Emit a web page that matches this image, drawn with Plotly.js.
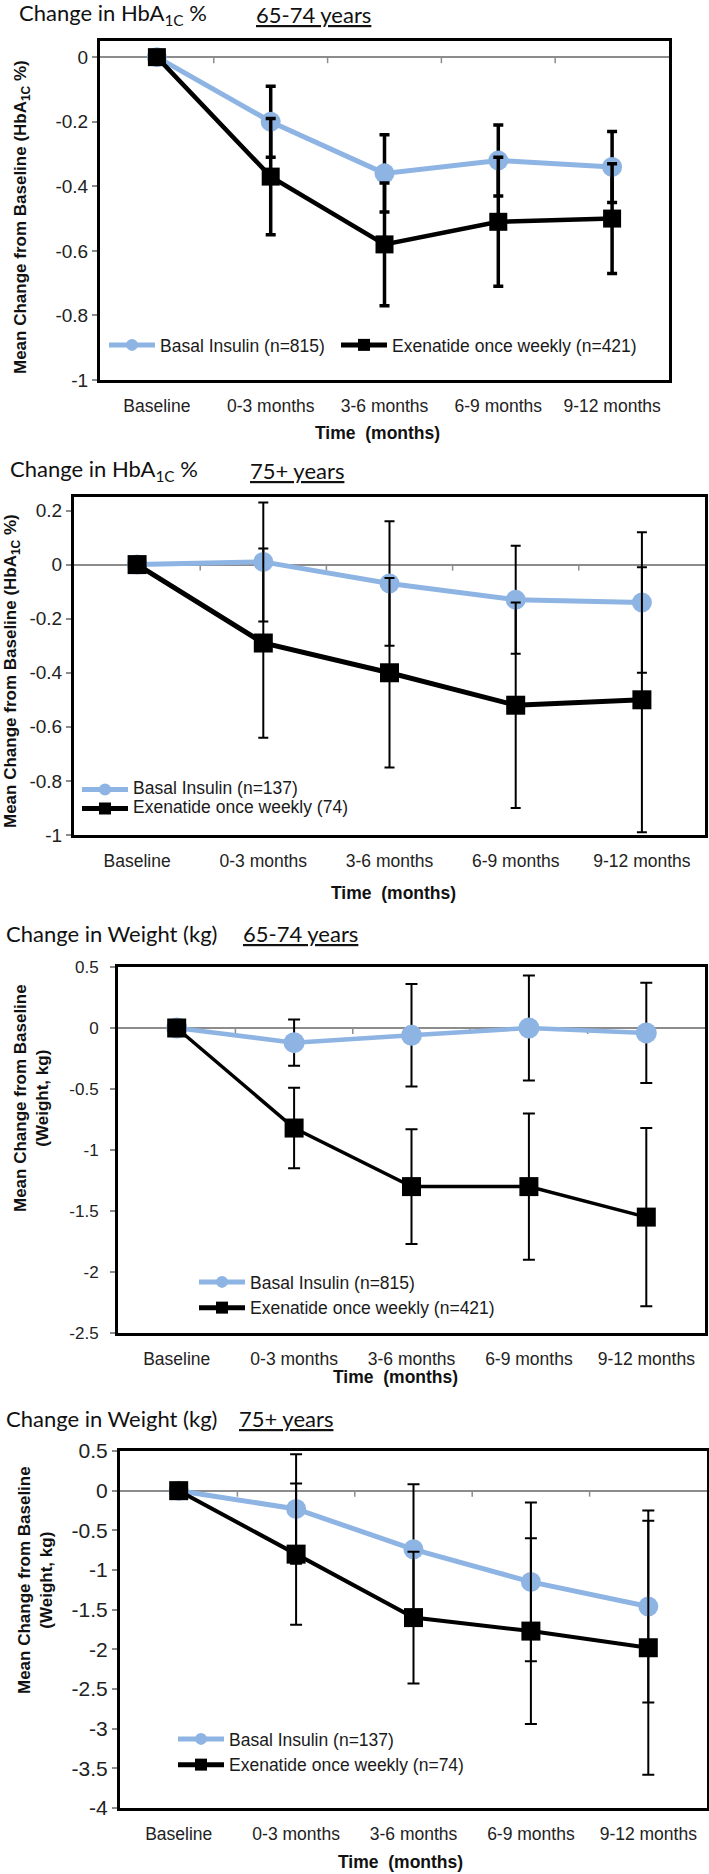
<!DOCTYPE html>
<html><head><meta charset="utf-8">
<script src="https://cdn.plot.ly/plotly-3.0.1.min.js"></script>
<style>html,body{margin:0;padding:0;background:#fff}#chart{width:709px;height:1874px}</style>
</head><body><div id="chart"></div>
<script>
// ---------- data ----------
const categories = ['Baseline', '0-3 months', '3-6 months', '6-9 months', '9-12 months'];

// Panel 1: Change in HbA1c %, 65-74 years
const basal1    = [0, -0.20, -0.36, -0.32, -0.34];
const basal1Err = [0, 0.11, 0.12, 0.11, 0.11];
const exen1     = [0, -0.37, -0.58, -0.51, -0.50];
const exen1Err  = [0, 0.18, 0.19, 0.20, 0.17];
const yTicks1   = [0, -0.2, -0.4, -0.6, -0.8, -1];

// Panel 2: Change in HbA1c %, 75+ years
const basal2    = [0, 0.01, -0.07, -0.13, -0.14];
const basal2Err = [0, 0.22, 0.23, 0.20, 0.26];
const exen2     = [0, -0.29, -0.40, -0.52, -0.50];
const exen2Err  = [0, 0.35, 0.35, 0.38, 0.49];
const yTicks2   = [0.2, 0, -0.2, -0.4, -0.6, -0.8, -1];

// Panel 3: Change in Weight (kg), 65-74 years
const basal3    = [0, -0.12, -0.06, 0.00, -0.04];
const basal3Err = [0, 0.19, 0.42, 0.43, 0.41];
const exen3     = [0, -0.82, -1.30, -1.30, -1.55];
const exen3Err  = [0, 0.33, 0.47, 0.60, 0.73];
const yTicks3   = [0.5, 0, -0.5, -1, -1.5, -2, -2.5];

// Panel 4: Change in Weight (kg), 75+ years
const basal4    = [0, -0.23, -0.74, -1.15, -1.46];
const basal4Err = [0, 0.69, 0.82, 1.00, 1.21];
const exen4     = [0, -0.80, -1.60, -1.77, -1.98];
const exen4Err  = [0, 0.89, 0.83, 1.17, 1.60];
const yTicks4   = [0.5, 0, -0.5, -1, -1.5, -2, -2.5, -3, -3.5, -4];

const basalNames = ['Basal Insulin (n=815)', 'Basal Insulin (n=137)', 'Basal Insulin (n=815)', 'Basal Insulin (n=137)'];
const exenNames  = ['Exenatide once weekly (n=421)', 'Exenatide once weekly (74)', 'Exenatide once weekly (n=421)', 'Exenatide once weekly (n=74)'];
const titleLeft  = ['Change in HbA<sub>1C</sub> %', 'Change in HbA<sub>1C</sub> %', 'Change in Weight (kg)', 'Change in Weight (kg)'];
const titleRight = ['65-74 years', '75+ years', '65-74 years', '75+ years'];
const yTitles    = ['Mean Change from Baseline (HbA<sub>1C</sub> %)', 'Mean Change from Baseline (HbA<sub>1C</sub> %)',
                    'Mean Change from Baseline<br>(Weight, kg)', 'Mean Change from Baseline<br>(Weight, kg)'];
const xTitle     = 'Time  (months)';

// ---------- layout geometry (pixels) ----------
const W = 709, H = 1874;
const px = x => x / W, py = y => 1 - y / H;
const BLUE = '#8EB4E3';
const FONT = 'Liberation Sans, Arial, sans-serif';
const TFONT = 'Lato, Carlito, Calibri, sans-serif';
const LEG_FS = 17.5;

const series = [
  {b: basal1, be: basal1Err, e: exen1, ee: exen1Err, ticks: yTicks1},
  {b: basal2, be: basal2Err, e: exen2, ee: exen2Err, ticks: yTicks2},
  {b: basal3, be: basal3Err, e: exen3, ee: exen3Err, ticks: yTicks3},
  {b: basal4, be: basal4Err, e: exen4, ee: exen4Err, ticks: yTicks4}
];
// legend boxes: [left x of symbol, centre y] ; row font size sets the row pitch
const geom = [
  {l: 100, r: 669, t: 41,   b: 380,  yr: [-1, 0.05],  ytf: 19, ystand: 0,
   titleY: 14, titleX: 17, title2X: 254, xtY: 433, xtX: 378, ytX: [22], ytY: 217,
   legs: [{x: 109, y: 345}, {x: 341, y: 345}], rowfs: LEG_FS, gap: 0,
   bw: 5, ew: 4.5, et: 3.5, ewid: 5, ms: 20, ss: 18},
  {l: 74,  r: 705, t: 497,  b: 835,  yr: [-1, 0.25],  ytf: 19, ystand: 0,
   titleY: 470, titleX: 8, title2X: 248, xtY: 893, xtX: 393, ytX: [12], ytY: 671,
   legs: [{x: 82, y: 799}], rowfs: 12.3, gap: 0,
   bw: 5, ew: 5, et: 2, ewid: 5, ms: 20, ss: 19},
  {l: 118, r: 705, t: 967,  b: 1333, yr: [-2.5, 0.5], ytf: 17, ystand: 8,
   titleY: 934, titleX: 4, title2X: 241, xtY: 1377, xtX: 395, ytX: [21, 41], ytY: 1098,
   legs: [{x: 199, y: 1295}], rowfs: LEG_FS, gap: 1,
   bw: 4.5, ew: 3.5, et: 2, ewid: 6, ms: 21, ss: 19},
  {l: 120, r: 707, t: 1451, b: 1808, yr: [-4, 0.5],   ytf: 21, ystand: 0,
   titleY: 1418, titleX: 4, title2X: 237, xtY: 1862, xtX: 400, ytX: [24, 46], ytY: 1580,
   legs: [{x: 178, y: 1752}], rowfs: LEG_FS, gap: 14,
   bw: 5, ew: 4, et: 2, ewid: 6, ms: 20, ss: 19}
];

const traces = [];
const layout = {
  width: W, height: H,
  margin: {l: 0, r: 0, t: 0, b: 0},
  paper_bgcolor: '#fff', plot_bgcolor: '#fff',
  font: {family: FONT, color: '#222'},
  showlegend: true,
  annotations: [], shapes: []
};

const legText = t => '<span style="font-size:' + LEG_FS + 'px">' + t + '</span>';

series.forEach((s, i) => {
  const g = geom[i];
  const n = i + 1;
  const xa = n === 1 ? 'x' : 'x' + n;
  const ya = n === 1 ? 'y' : 'y' + n;
  const xKey = n === 1 ? 'xaxis' : 'xaxis' + n;
  const yKey = n === 1 ? 'yaxis' : 'yaxis' + n;
  const legIds = g.legs.length === 2 ? ['legend', 'legend5'] : ['legend' + n];
  const legB = legIds.length === 2 ? legIds[1] : legIds[0];

  traces.push({
    type: 'scatter', mode: 'lines+markers', x: categories, y: s.b,
    name: legText(basalNames[i]), xaxis: xa, yaxis: ya, legend: legIds[0], legendgroup: 'b' + n,
    line: {color: BLUE, width: g.bw},
    marker: {symbol: 'circle', size: g.ms, color: BLUE},
    error_y: {type: 'data', array: s.be, visible: true, color: '#000', thickness: g.et, width: g.ewid},
    hoverinfo: 'x+y'
  });
  traces.push({
    type: 'scatter', mode: 'lines+markers', x: categories, y: s.e,
    name: legText(exenNames[i]), xaxis: xa, yaxis: ya, legend: legB, legendgroup: 'e' + n,
    line: {color: '#000', width: g.ew},
    marker: {symbol: 'square', size: g.ss, color: '#000'},
    error_y: {type: 'data', array: s.ee, visible: true, color: '#000', thickness: g.et, width: g.ewid},
    hoverinfo: 'x+y'
  });

  layout[xKey] = {
    domain: [px(g.l), px(g.r)], anchor: ya, type: 'category',
    range: [-0.5, categories.length - 0.5],
    showline: true, linecolor: '#000', linewidth: 3, mirror: true,
    showgrid: false, zeroline: false, ticks: '',
    ticklabelstandoff: 8,
    tickfont: {family: FONT, size: 17.5, color: '#222'},
    fixedrange: true
  };
  layout[yKey] = {
    domain: [py(g.b), py(g.t)], anchor: xa,
    range: g.yr,
    showline: true, linecolor: '#000', linewidth: 3, mirror: true,
    showgrid: false,
    zeroline: true, zerolinecolor: '#8c8c8c', zerolinewidth: 1.5,
    ticks: 'outside', ticklen: 5, tickwidth: 1.5, tickcolor: '#8c8c8c',
    tickvals: s.ticks, ticktext: s.ticks.map(v => String(v)),
    ticklabelstandoff: g.ystand,
    tickfont: {family: FONT, size: g.ytf, color: '#222'},
    fixedrange: true
  };

  legIds.forEach((id, k) => {
    layout[id] = {
      x: px(g.legs[k].x - 5), y: py(g.legs[k].y),
      xanchor: 'left', yanchor: 'middle', bgcolor: 'rgba(0,0,0,0)',
      orientation: 'v',
      font: {family: FONT, size: g.rowfs, color: '#1a1a1a'},
      itemsizing: 'constant', itemwidth: 46, tracegroupgap: g.gap,
      traceorder: 'normal', itemclick: false, itemdoubleclick: false
    };
  });

  // small tick marks on the zero line between categories
  categories.slice(1).forEach((c, k) => {
    layout.shapes.push({
      type: 'line', xref: xa, yref: ya, x0: k + 0.5, x1: k + 0.5,
      ysizemode: 'pixel', yanchor: 0, y0: 0, y1: -6,
      line: {color: '#8c8c8c', width: 1.5}, layer: 'below'
    });
  });

  // panel titles
  layout.annotations.push({
    xref: 'paper', yref: 'paper', x: px(g.titleX), y: py(g.titleY),
    xanchor: 'left', yanchor: 'middle', showarrow: false,
    text: titleLeft[i], font: {family: TFONT, size: 22, color: '#111'}
  });
  layout.annotations.push({
    xref: 'paper', yref: 'paper', x: px(g.title2X), y: py(g.titleY),
    xanchor: 'left', yanchor: 'middle', showarrow: false,
    text: titleRight[i], font: {family: TFONT, size: 22, color: '#111', lineposition: 'under'}
  });
  // x axis title
  layout.annotations.push({
    xref: 'paper', yref: 'paper', x: px(g.xtX), y: py(g.xtY),
    xanchor: 'center', yanchor: 'middle', showarrow: false,
    text: xTitle, font: {family: FONT, size: 17.5, color: '#111', weight: 'bold'}
  });
  // y axis title
  const ytxCenter = g.ytX.length === 1 ? g.ytX[0] : (g.ytX[0] + g.ytX[1]) / 2;
  layout.annotations.push({
    xref: 'paper', yref: 'paper', x: px(ytxCenter), y: py(g.ytY),
    xanchor: 'center', yanchor: 'middle', showarrow: false, textangle: -90,
    text: yTitles[i], font: {family: FONT, size: 17, color: '#111', weight: 'bold'}
  });
});

Plotly.newPlot('chart', traces, layout, {displayModeBar: false, responsive: false});
</script>
</body></html>
